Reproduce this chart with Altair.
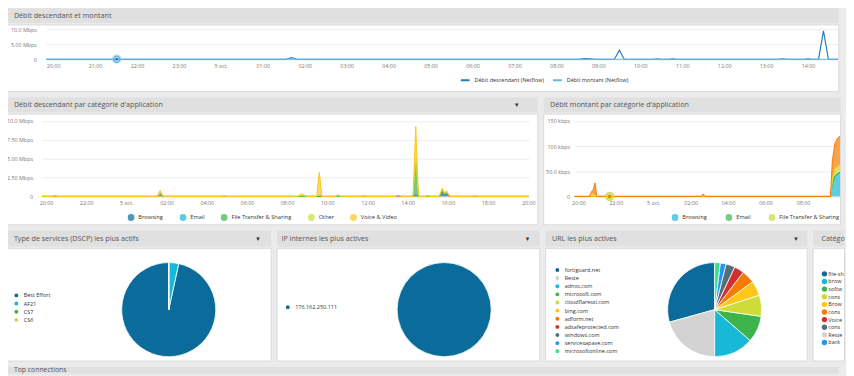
import altair as alt
import pandas as pd

FONT = "Open Sans"
BG = "#ebebeb"
HEAD = "#e0e0e0"
BORDER = "#dadada"

# ---------------- colours (palette of the dashboard)
DKBLUE, CYAN, GREEN, YGREEN = "#0b6b9b", "#17b9d6", "#3cb44b", "#cddc39"
AMBER, ORANGE, RED, SLATE = "#ffc61a", "#f57c00", "#d32f2f", "#546e7a"
LGRAY, BLUE, MINT = "#d3d3d3", "#2196f3", "#3ddc97"

# ---------------- titles
T_ROW1 = "Débit descendant et montant"
T_DL = "Débit descendant par catégorie d'application"
T_UL = "Débit montant par catégorie d'application"
T_DSCP = "Type de services (DSCP) les plus actifs"
T_IP = "IP internes les plus actives"
T_URL = "URL les plus actives"
T_CAT = "Catégo"
T_TOP = "Top connections"

DAY = {"04": "2023-10-04", "05": "2023-10-05"}

# ---------------- row 1 : download / upload (Mbps)
r1_series = ["Débit descendant (Netflow)", "Débit montant (Netflow)"]
r1_domain = ["04 19:50", "05 14:43"]
r1_ticks = ["04 20:00", "04 21:00", "04 22:00", "04 23:00", "05 00:00", "05 01:00",
            "05 02:00", "05 03:00", "05 04:00", "05 05:00", "05 06:00", "05 07:00",
            "05 08:00", "05 09:00", "05 10:00", "05 11:00", "05 12:00", "05 13:00", "05 14:00"]
r1_desc_t = ["04 19:50", "05 01:33", "05 01:41", "05 01:49", "05 08:32", "05 08:40", "05 08:48",
             "05 08:56", "05 09:23", "05 09:30", "05 09:37", "05 10:19", "05 10:24", "05 10:30",
             "05 10:41", "05 10:46", "05 10:51", "05 13:17", "05 13:24", "05 13:31", "05 13:55",
             "05 14:00", "05 14:05", "05 14:15", "05 14:22", "05 14:29", "05 14:43"]
r1_desc_v = [0, 0, 0.5, 0, 0, 0.2, 0.1, 0, 0, 3.0, 0, 0, 0.15, 0, 0, 0.1, 0, 0, 0.15, 0, 0,
             0.1, 0, 0, 9.5, 0, 0]
r1_mont_t = ["04 19:50", "05 01:35", "05 01:41", "05 01:47", "05 14:43"]
r1_mont_v = [0, 0, 0.12, 0, 0]
r1_marker_t = ["04 21:31"]
r1_marker_v = [0]
r1_yticks = [0, 5, 10]

# ---------------- row 2 left : download by category (Mbps), stacked
dl_cats = ["Browsing", "Email", "File Transfer & Sharing", "Other", "Voice & Video"]
dl_colors = [DKBLUE, CYAN, GREEN, YGREEN, AMBER]
dl_domain = ["04 19:48", "05 20:02"]
dl_ticks = ["04 20:00", "04 22:00", "05 00:00", "05 02:00", "05 04:00", "05 06:00", "05 08:00",
            "05 10:00", "05 12:00", "05 14:00", "05 16:00", "05 18:00", "05 20:00"]
dl_t = ["04 19:48", "04 20:20", "04 20:28", "04 20:36", "05 01:32", "05 01:41", "05 01:50",
        "05 04:44", "05 04:52", "05 05:00", "05 08:32", "05 08:42", "05 08:52", "05 09:00",
        "05 09:28", "05 09:36", "05 09:44", "05 10:24", "05 10:32", "05 10:40", "05 11:42",
        "05 11:50", "05 11:58", "05 13:24", "05 13:32", "05 13:40", "05 14:16", "05 14:24",
        "05 14:32", "05 14:54", "05 15:02", "05 15:10", "05 15:34", "05 15:43", "05 15:50",
        "05 15:56", "05 16:06", "05 17:14", "05 17:22", "05 17:30", "05 20:02"]
dl_browsing = [0, 0, 0, 0, 0, .35, 0, 0, 0, 0,
               0, 0, 0, 0, 0, 0, 0, 0, 0, 0,
               0, 0, 0, 0, .1, 0, 0, .2, 0, 0,
               0, 0, 0, .75, .3, .5, 0, 0, 0, 0,
               0]
dl_email = [0, 0, 0, 0, 0, 0, 0, 0, 0, 0,
            0, 0, 0, 0, 0, 0, 0, 0, 0, 0,
            0, 0, 0, 0, 0, 0, 0, 0, 0, 0,
            0, 0, 0, .05, 0, 0, 0, 0, 0, 0,
            0]
dl_file = [0, 0, 0, 0, 0, 0, 0, 0, 0, 0,
           0, 0, 0, 0, 0, 0, 0, 0, 0, 0,
           0, 0, 0, 0, 0, 0, 0, 4.2, 0, 0,
           0, 0, 0, 0, 0, 0, 0, 0, 0, 0,
           0]
dl_other = [0, 0, .08, 0, 0, 0, 0, 0, .06, 0,
            0, .1, .05, 0, 0, .3, 0, 0, .1, 0,
            0, .06, 0, 0, .05, 0, 0, .3, 0, 0,
            .08, 0, 0, .1, .05, .05, 0, 0, .05, 0,
            0]
dl_voice = [0, 0, 0, 0, 0, .45, 0, 0, 0, 0,
            0, .25, .1, 0, 0, 2.9, 0, 0, .15, 0,
            0, 0, 0, 0, 0, 0, 0, 4.6, 0, 0,
            0, 0, 0, .2, .1, .2, 0, 0, 0, 0,
            0]
dl_yticks = [0, 2.5, 5, 7.5, 10]

# ---------------- row 2 right : upload by category (kbps), stacked
ul_cats = ["Browsing", "Email", "File Transfer & Sharing", "Other", "Voice & Video"]
ul_colors = [CYAN, GREEN, YGREEN, AMBER, ORANGE]
ul_legend = ["Browsing", "Email", "File Transfer & Sharing"]
ul_domain = ["04 19:48", "05 09:59"]
ul_ticks = ["04 20:00", "04 22:00", "05 00:00", "05 02:00", "05 04:00", "05 06:00", "05 08:00"]
ul_t = ["04 19:48", "04 20:36", "04 20:42", "04 20:48", "04 20:53", "04 20:59", "05 02:34",
        "05 02:40", "05 02:46", "05 09:28", "05 09:34", "05 09:42", "05 09:50", "05 09:59"]
ul_browsing = [0, 0, 0, 0, 0, 0, 0, 0, 0, 0, 25, 40, 45, 48]
ul_email = [0, 0, 0, 0, 0, 0, 0, 0, 0, 0, 0, 0, 0, 0]
ul_file = [0, 0, 0, 0, 0, 0, 0, 0, 0, 0, 5, 8, 8, 8]
ul_other = [0, 0, 6, 5, 3, 0, 0, 0, 0, 0, 5, 7, 7, 7]
ul_voice = [0, 0, 4, 9, 24, 0, 0, 5, 0, 0, 35, 50, 55, 57]
ul_marker_t = ["04 21:40"]
ul_marker_v = [0]
ul_yticks = [0, 50, 100, 150]

# ---------------- row 3 : pies
dscp_cats = ["Best Effort", "AF21", "CS7", "CS6"]
dscp_vals = [96.6, 3.4, 0, 0]
dscp_colors = [DKBLUE, CYAN, GREEN, YGREEN]

ip_cats = ["176.162.250.111"]
ip_vals = [100]
ip_colors = [DKBLUE]

url_cats = ["fortiguard.net", "Reste", "adnxs.com", "microsoft.com", "cloudflaressl.com",
            "bing.com", "adform.net", "adsafeprotected.com", "windows.com",
            "servicesapave.com", "microsoftonline.com"]
url_vals = [29.3, 20.7, 13.6, 9.1, 7.3, 5.1, 4.5, 3.4, 3.1, 2.0, 1.9]
url_colors = [DKBLUE, LGRAY, CYAN, GREEN, YGREEN, AMBER, ORANGE, RED, SLATE, BLUE, MINT]

cat_labels = ["file-sh", "brow", "softw", "cons", "Brow", "cons", "Voice", "cons", "Reste", "back"]
cat_colors = [DKBLUE, CYAN, GREEN, YGREEN, AMBER, ORANGE, RED, SLATE, LGRAY, BLUE]


# ================= helpers
def ts(s):
    d, hm = s.split()
    return f"{DAY[d]}T{hm}:00Z"


def ms(s):
    return int(pd.Timestamp(ts(s)).value // 1_000_000)


TLBL = "utchours(datum.value) == 0 ? utcdate(datum.value) + ' oct.' : utcFormat(datum.value, '%H:%M')"
MBPS = "datum.value == 0 ? '0' : format(datum.value, '.3r') + ' Mbps'"
KBPS = "datum.value == 0 ? '0' : format(datum.value, '.3r') + ' kbps'"
ZW = "\u200b"


def view_white():
    return alt.ViewBackground(fill="white", stroke=BORDER)


def panel(head, body):
    return alt.vconcat(head, body, spacing=0).resolve_scale(color="independent")


def header(title, width, height=15, arrow=False, tx=8, ax=14, fs=7.3):
    df = pd.DataFrame({"t": [title]})
    base = alt.Chart(df)
    layers = [base.mark_text(align="left", baseline="middle", fontSize=fs, color="#555555",
                             font=FONT, limit=width - tx + 2, ellipsis=ZW)
              .encode(x=alt.value(tx), y=alt.value(height / 2 + 0.5), text="t:N")]
    if arrow:
        layers.append(base.mark_text(text="▾", fontSize=7, color="#333333", font="DejaVu Sans",
                                     baseline="middle", align="center")
                      .encode(x=alt.value(width - ax), y=alt.value(height / 2 + 0.5)))
    return alt.layer(*layers).properties(width=width, height=height,
                                         view=alt.ViewBackground(fill=HEAD, stroke="transparent"))


def time_x(domain, rng, ticks, axis_y, H):
    return alt.X("t:T",
                 scale=alt.Scale(type="utc", domain=[ms(domain[0]), ms(domain[1])], range=rng),
                 axis=alt.Axis(values=[ms(v) for v in ticks], labelExpr=TLBL, offset=axis_y - H,
                               domain=False, ticks=False, grid=False, labelPadding=4,
                               labelFontSize=5.5, labelColor="#777777", title=None, labelAngle=0,
                               labelOverlap=False, labelFlush=False))


def val_y(domain, rng, ticks, expr, axis_x, stack=None):
    kw = {}
    if stack:
        kw["stack"] = stack
    return alt.Y("v:Q",
                 scale=alt.Scale(domain=domain, range=rng, nice=False, zero=True),
                 axis=alt.Axis(values=ticks, labelExpr=expr, offset=-axis_x, domain=False,
                               ticks=False, grid=True, gridColor="#ececec", labelPadding=3,
                               labelFontSize=5.5, labelColor="#777777", title=None,
                               labelOverlap=False), **kw)


def hlegend(x, y, values=None, stype="circle", colpad=16, fs=5.8):
    kw = dict(orient="none", legendX=x, legendY=y, direction="horizontal", title=None,
              labelFontSize=fs, labelColor="#333333", symbolType=stype, symbolSize=30,
              columnPadding=colpad, labelOffset=4, clipHeight=8, padding=0)
    if values:
        kw["values"] = values
    if stype == "stroke":
        kw["symbolStrokeWidth"] = 2
        kw["symbolSize"] = 80
    return alt.Legend(**kw)


def vlegend(x, y):
    return alt.Legend(orient="none", legendX=x, legendY=y, direction="vertical", title=None,
                      labelFontSize=5.6, labelColor="#333333", symbolType="circle",
                      symbolSize=30, rowPadding=0.3, labelOffset=4, clipHeight=7, padding=0)


# ================= row 1
W1, H1 = 849, 68
r1_df = pd.DataFrame(
    [{"t": ts(t), "v": v, "s": r1_series[0]} for t, v in zip(r1_desc_t, r1_desc_v)] +
    [{"t": ts(t), "v": v, "s": r1_series[1]} for t, v in zip(r1_mont_t, r1_mont_v)])
r1_mk = pd.DataFrame({"t": [ts(t) for t in r1_marker_t], "v": r1_marker_v})
r1_x = time_x(r1_domain, [40.9, 849], r1_ticks, 35.5, H1)
r1_y = val_y([0, 10], [35.5, 5], r1_yticks, MBPS, 34)
r1_line = alt.Chart(r1_df).mark_line(strokeWidth=1.2, clip=True).encode(
    x=r1_x, y=r1_y,
    color=alt.Color("s:N", scale=alt.Scale(domain=r1_series, range=["#2b7cb3", "#63b8e8"]),
                    legend=hlegend(463, 53, stype="stroke", colpad=7, fs=5.6)))
r1_halo = alt.Chart(r1_mk).mark_circle(size=95, color="#8ccbee", opacity=0.55).encode(x=r1_x, y=r1_y)
r1_ring = alt.Chart(r1_mk).mark_point(size=40, color="#3f9ad6", strokeWidth=1.2).encode(x=r1_x, y=r1_y)
r1_core = alt.Chart(r1_mk).mark_circle(size=8, color="#2b7cb3", opacity=1).encode(x=r1_x, y=r1_y)
r1_body = alt.layer(r1_line, r1_halo, r1_ring, r1_core).properties(width=W1, height=H1, view=view_white())
row1 = panel(header(T_ROW1, W1, 15), r1_body)


# ================= row 2
def long_df(cats, times, series):
    rows = []
    for k, (c, vals) in enumerate(zip(cats, series)):
        for t, v in zip(times, vals):
            rows.append({"t": ts(t), "v": v, "c": c, "k": k})
    return pd.DataFrame(rows)


W2L, W2R, H2 = 542, 303, 113
dl_df = long_df(dl_cats, dl_t, [dl_browsing, dl_email, dl_file, dl_other, dl_voice])
dl_body = alt.Chart(dl_df).mark_area(line={"strokeWidth": 1}, clip=True, interpolate="linear").encode(
    x=time_x(dl_domain, [36.7, 533.5], dl_ticks, 84.5, H2),
    y=val_y([0, 10], [84.5, 7.5], dl_yticks, MBPS, 30, stack="zero"),
    color=alt.Color("c:N", scale=alt.Scale(domain=dl_cats, range=dl_colors),
                    legend=hlegend(124, 102)),
    order=alt.Order("k:Q"),
).properties(width=W2L, height=H2, view=view_white())

ul_df = long_df(ul_cats, ul_t, [ul_browsing, ul_email, ul_file, ul_other, ul_voice])
ul_mk = pd.DataFrame({"t": [ts(t) for t in ul_marker_t], "v": ul_marker_v})
ul_x = time_x(ul_domain, [32.2, 303], ul_ticks, 84.5, H2)
ul_yq = val_y([0, 150], [84.5, 7.5], ul_yticks, KBPS, 30)
ul_area = alt.Chart(ul_df).mark_area(line={"strokeWidth": 1}, clip=True, interpolate="linear").encode(
    x=ul_x,
    y=val_y([0, 150], [84.5, 7.5], ul_yticks, KBPS, 30, stack="zero"),
    color=alt.Color("c:N", scale=alt.Scale(domain=ul_cats, range=ul_colors),
                    legend=hlegend(131, 102, values=ul_legend, colpad=18)),
    order=alt.Order("k:Q"),
)
ul_halo = alt.Chart(ul_mk).mark_circle(size=95, color=YGREEN, opacity=0.8).encode(x=ul_x, y=ul_yq)
ul_core = alt.Chart(ul_mk).mark_circle(size=12, color=ORANGE, opacity=1).encode(x=ul_x, y=ul_yq)
ul_body = alt.layer(ul_area, ul_halo, ul_core).properties(width=W2R, height=H2, view=view_white())

row2 = alt.hconcat(
    panel(header(T_DL, W2L, 15, arrow=True, ax=21), dl_body),
    panel(header(T_UL, W2R, 15, tx=7), ul_body),
    spacing=4).resolve_scale(color="independent")


# ================= row 3
def pie(cats, vals, colors, W, H, cx, cy, r, lx, ly):
    df = pd.DataFrame({"c": cats, "v": vals, "k": list(range(len(cats)))})
    return alt.Chart(df).mark_arc(radius=r, stroke="white", strokeWidth=0.8).encode(
        theta=alt.Theta("v:Q", stack=True),
        color=alt.Color("c:N", scale=alt.Scale(domain=cats, range=colors), legend=vlegend(lx, ly)),
        order=alt.Order("k:Q", sort="descending"),
        x=alt.value(cx), y=alt.value(cy),
    ).properties(width=W, height=H, view=view_white())


H3 = 115
W3 = [270, 268, 267, 32]
p_dscp = pie(dscp_cats, dscp_vals, dscp_colors, W3[0], H3, 166, 63, 48, 7, 45)
p_ip = pie(ip_cats, ip_vals, ip_colors, W3[1], H3, 171, 63, 48, 8, 57)
p_url = pie(url_cats, url_vals, url_colors, W3[2], H3, 173, 63, 48, 9, 19)

# the 4th panel is cut by the screen edge: only the start of its legend is visible
cat_df = pd.DataFrame({"lab": cat_labels, "k": list(range(len(cat_labels))),
                       "key": [f"{lab}|{i}" for i, lab in enumerate(cat_labels)]})
cat_y = alt.Y("k:Q", scale=alt.Scale(domain=[0, 9], range=[26.5, 96.5], nice=False, zero=False),
              axis=None)
cat_dots = alt.Chart(cat_df).mark_circle(size=30, opacity=1).encode(
    x=alt.value(12), y=cat_y,
    color=alt.Color("key:N", scale=alt.Scale(domain=list(cat_df["key"]), range=cat_colors),
                    legend=None))
cat_text = alt.Chart(cat_df).mark_text(align="left", baseline="middle", fontSize=5.6,
                                       color="#333333", limit=17, ellipsis=ZW).encode(
    x=alt.value(16), y=cat_y, text="lab:N")
p_cat = alt.layer(cat_dots, cat_text).properties(width=W3[3], height=H3, view=view_white())

row3 = alt.hconcat(
    panel(header(T_DSCP, W3[0], 16, arrow=True, ax=13), p_dscp),
    panel(header(T_IP, W3[1], 16, arrow=True, tx=5, ax=12), p_ip),
    panel(header(T_URL, W3[2], 16, arrow=True, tx=7, ax=11), p_url),
    panel(header(T_CAT, W3[3], 16, tx=9), p_cat),
    spacing=4).resolve_scale(color="independent")

row4 = header(T_TOP, W1, 7, fs=7)

chart = alt.vconcat(row1, row2, row3, row4, spacing=4).resolve_scale(
    color="independent").properties(
    padding={"left": -3, "top": -5, "right": 0, "bottom": 0}, background=BG).configure(
    font=FONT).configure_view(stroke="transparent")

chart.save("out.html", embed_options={"renderer": "svg", "actions": False})
